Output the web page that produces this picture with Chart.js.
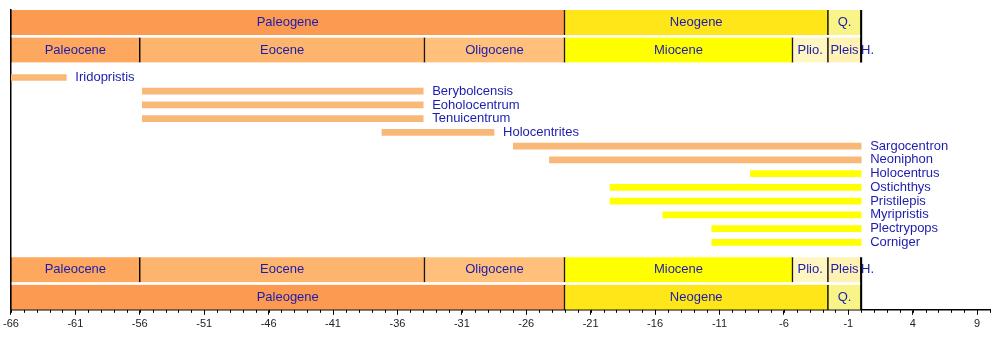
<!DOCTYPE html>
<html>
<head>
<meta charset="utf-8">
<script src="https://cdn.jsdelivr.net/npm/chart.js@4"></script>
<style>
  html, body { margin: 0; padding: 0; background: #fff; }
  #wrap { width: 1000px; height: 360px; position: relative; }
</style>
</head>
<body>
<div id="wrap"><canvas id="timeline"></canvas></div>
<script>
// geological periods (Ma, negative = ago)
const periods = ['Paleogene', 'Neogene', 'Q.'];
const periodStart = [-66, -23.03, -2.58];
const periodEnd = [-23.03, -2.58, 0];
const periodColors = ['#fd9a52', '#ffe619', '#f9f488'];

const epochs = ['Paleocene', 'Eocene', 'Oligocene', 'Miocene', 'Plio.', 'Pleis', 'H.'];
const epochStart = [-66, -56, -33.9, -23.03, -5.333, -2.58, -0.0117];
const epochEnd = [-56, -33.9, -23.03, -5.333, -2.58, -0.0117, 0];
const epochColors = ['#fda75f', '#fdb46c', '#fec07a', '#ffff00', '#fff6c2', '#fff2b4', '#fef2e0'];

// genera, top to bottom
const genera = ['Iridopristis', 'Berybolcensis', 'Eoholocentrum', 'Tenuicentrum', 'Holocentrites',
  'Sargocentron', 'Neoniphon', 'Holocentrus', 'Ostichthys', 'Pristilepis', 'Myripristis',
  'Plectrypops', 'Corniger'];
const firstSeen = [-66, -55.8, -55.8, -55.8, -37.2, -27, -24.2, -8.6, -19.5, -19.5, -15.4, -11.6, -11.6];
const lastSeen = [-61.7, -34, -34, -34, -28.5, 0, 0, 0, 0, 0, 0, 0, 0];
const barColor = ['orange', 'orange', 'orange', 'orange', 'orange', 'orange', 'orange',
  'yellow', 'yellow', 'yellow', 'yellow', 'yellow', 'yellow'];

const tickLabels = [-66, -61, -56, -51, -46, -41, -36, -31, -26, -21, -16, -11, -6, -1, 4, 9];

const textBlue = '#1c1cae';
const font = '13px "Liberation Sans", Arial, sans-serif';

// row positions: band rows above and below the genera
const topPeriodRow = -4, topEpochRow = -2, bottomEpochRow = 14, bottomPeriodRow = 16;

const bandData = (names, starts, ends, row) =>
  names.map((n, i) => ({ x: [starts[i], ends[i]], y: row, name: n }));

const datasets = [
  {
    data: bandData(periods, periodStart, periodEnd, topPeriodRow)
      .concat(bandData(periods, periodStart, periodEnd, bottomPeriodRow)),
    backgroundColor: periodColors.concat(periodColors),
    barThickness: 25, band: true
  },
  {
    data: bandData(epochs, epochStart, epochEnd, topEpochRow)
      .concat(bandData(epochs, epochStart, epochEnd, bottomEpochRow)),
    backgroundColor: epochColors.concat(epochColors),
    barThickness: 25, band: true
  },
  {
    data: genera.map((g, i) => ({ x: [firstSeen[i], lastSeen[i]], y: i, name: g })),
    backgroundColor: barColor.map(c => c === 'orange' ? '#fab878' : '#ffff00'),
    barThickness: 6, band: false
  }
];
datasets.forEach(d => {
  d.grouped = false;
  d.borderSkipped = false;
  d.borderColor = '#000';
  d.borderWidth = d.band ? { left: 1, right: 1, top: 0, bottom: 0 } : 0;
});

// labels inside bands and beside genus bars, plus minor axis ticks
const labelPlugin = {
  id: 'labels',
  afterDatasetsDraw(chart) {
    const ctx = chart.ctx;
    ctx.save();
    ctx.font = font;
    ctx.fillStyle = textBlue;
    ctx.textBaseline = 'middle';
    chart.data.datasets.forEach((ds, di) => {
      chart.getDatasetMeta(di).data.forEach((bar, i) => {
        const name = ds.data[i].name;
        const left = Math.min(bar.x, bar.base), right = Math.max(bar.x, bar.base);
        if (ds.band) {
          const w = ctx.measureText(name).width;
          if (right - left < w) {
            ctx.textAlign = 'left';
            ctx.fillText(name, left, bar.y);
          } else {
            ctx.textAlign = 'center';
            ctx.fillText(name, (left + right) / 2, bar.y);
          }
        } else {
          ctx.textAlign = 'left';
          ctx.fillText(name, right + 9, bar.y);
        }
      });
    });
    // "now" line at the end of the Holocene
    const xs = chart.scales.x, ys = chart.scales.y;
    const nowX = xs.getPixelForValue(0);
    ctx.strokeStyle = '#000';
    ctx.lineWidth = 2;
    [[topPeriodRow, topEpochRow], [bottomEpochRow, bottomPeriodRow]].forEach(([a, b]) => {
      ctx.beginPath();
      ctx.moveTo(nowX, ys.getPixelForValue(a) - 12.5);
      ctx.lineTo(nowX, ys.getPixelForValue(b) + 12.5);
      ctx.stroke();
    });
    // minor ticks every 1 Ma
    ctx.lineWidth = 1;
    const y0 = chart.chartArea.bottom;
    for (let v = xs.min; v <= xs.max; v++) {
      const px = Math.round(xs.getPixelForValue(v)) + 0.5;
      ctx.beginPath();
      ctx.moveTo(px, y0);
      ctx.lineTo(px, y0 + 3);
      ctx.stroke();
    }
    ctx.restore();
  }
};

new Chart(document.getElementById('timeline'), {
  type: 'bar',
  data: { datasets },
  options: {
    indexAxis: 'y',
    responsive: true,
    maintainAspectRatio: false,
    animation: false,
    layout: { padding: { left: 10, right: 10, top: 10, bottom: 26 } },
    plugins: { legend: { display: false }, tooltip: { enabled: false } },
    scales: {
      x: {
        type: 'linear',
        min: -66,
        max: 10,
        afterBuildTicks: s => { s.ticks = tickLabels.map(v => ({ value: v })); },
        ticks: {
          color: '#222',
          font: { size: 11, family: '"Liberation Sans", Arial, sans-serif' },
          padding: 3,
          maxRotation: 0,
          autoSkip: false
        },
        grid: { drawOnChartArea: false, drawTicks: true, tickLength: 5, tickColor: '#000' },
        border: { color: '#000', width: 1.5 }
      },
      y: {
        type: 'linear',
        reverse: true,
        offset: false,
        min: -4.91,
        max: 16.91,
        ticks: { display: false },
        grid: { display: false, drawTicks: false },
        border: { color: '#000', width: 1.5 }
      }
    }
  },
  plugins: [labelPlugin]
});
</script>
</body>
</html>
